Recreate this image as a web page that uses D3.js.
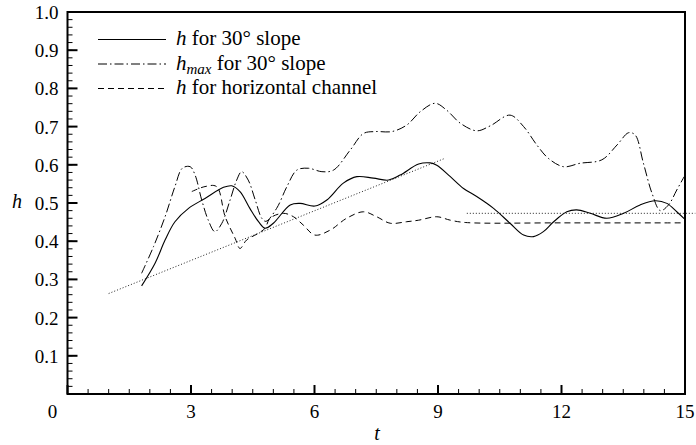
<!DOCTYPE html>
<html>
<head>
<meta charset="utf-8">
<script src="https://cdn.jsdelivr.net/npm/d3@7"></script>
<style>
  body { margin: 0; background: #fff; }
</style>
</head>
<body>
<div id="chart"></div>
<script>
// h for 30 degree slope (solid)
var tSlope = [1.80, 2.13, 2.37, 2.61, 2.94, 3.34, 3.79, 3.99, 4.19, 4.43, 4.64, 4.80, 5.00, 5.41, 5.65, 6.01, 6.30, 6.70, 7.03, 7.43, 7.80, 8.08, 8.53, 8.81, 8.97, 9.30, 9.62, 9.94, 10.35, 10.75, 11.08, 11.32, 11.56, 11.81, 12.13, 12.37, 12.70, 13.10, 13.51, 13.91, 14.28, 14.56, 14.80, 15.0];
var hSlope = [0.283, 0.343, 0.403, 0.451, 0.486, 0.512, 0.541, 0.545, 0.530, 0.486, 0.451, 0.434, 0.447, 0.495, 0.499, 0.492, 0.508, 0.552, 0.569, 0.565, 0.560, 0.573, 0.602, 0.605, 0.599, 0.569, 0.538, 0.517, 0.486, 0.447, 0.416, 0.412, 0.425, 0.451, 0.477, 0.482, 0.473, 0.460, 0.473, 0.495, 0.506, 0.499, 0.477, 0.457];

// hmax for 30 degree slope (dash-dot)
var tMax = [1.80, 2.09, 2.37, 2.61, 2.79, 2.98, 3.10, 3.26, 3.42, 3.58, 3.75, 3.95, 4.11, 4.23, 4.39, 4.56, 4.72, 4.82, 5.08, 5.33, 5.57, 5.85, 6.18, 6.46, 6.87, 7.19, 7.47, 7.88, 8.24, 8.57, 8.93, 9.21, 9.54, 9.94, 10.27, 10.75, 11.08, 11.40, 11.68, 12.05, 12.45, 12.98, 13.35, 13.63, 13.79, 13.99, 14.20, 14.40, 14.60, 14.80, 14.98];
var hMax = [0.316, 0.386, 0.464, 0.543, 0.591, 0.595, 0.573, 0.508, 0.455, 0.425, 0.447, 0.508, 0.560, 0.582, 0.560, 0.508, 0.460, 0.452, 0.486, 0.543, 0.586, 0.591, 0.582, 0.586, 0.639, 0.682, 0.687, 0.687, 0.704, 0.739, 0.761, 0.743, 0.709, 0.689, 0.702, 0.730, 0.700, 0.652, 0.617, 0.595, 0.604, 0.613, 0.652, 0.684, 0.678, 0.604, 0.525, 0.480, 0.495, 0.534, 0.569];

// h for horizontal channel (dashed)
var tChan = [3.02, 3.34, 3.62, 3.83, 4.07, 4.19, 4.35, 4.64, 4.80, 4.92, 5.24, 5.49, 5.73, 6.01, 6.38, 6.78, 7.19, 7.51, 7.84, 8.24, 8.53, 8.97, 9.30, 9.66, 12.0, 15.0];
var hChan = [0.530, 0.543, 0.543, 0.464, 0.408, 0.381, 0.403, 0.421, 0.434, 0.460, 0.473, 0.464, 0.442, 0.416, 0.429, 0.460, 0.477, 0.464, 0.447, 0.451, 0.455, 0.464, 0.455, 0.449, 0.448, 0.448];

// dotted reference lines
var tRise = [1.0, 9.17];
var hRise = [0.263, 0.617];
var tFlat = [9.70, 15.25];
var hFlat = [0.473, 0.473];

var xTicks = [0, 3, 6, 9, 12, 15];
var yTicks = [0.1, 0.2, 0.3, 0.4, 0.5, 0.6, 0.7, 0.8, 0.9, 1.0];

var legendNames = ["for 30\u00b0 slope", "for 30\u00b0 slope", "for horizontal channel"];

var FONT = "'Liberation Serif', 'Times New Roman', Times, Tinos, 'DejaVu Serif', serif";
var width = 696, height = 445;
var margin = {top: 12, right: 11, bottom: 52, left: 67.5};

var svg = d3.select("#chart").append("svg")
  .attr("width", width)
  .attr("height", height)
  .attr("font-family", FONT);

var x = d3.scaleLinear().domain([0, 15]).range([margin.left, width - margin.right]);
var y = d3.scaleLinear().domain([0, 1]).range([height - margin.bottom + 1, margin.top]);

// frame
svg.append("rect")
  .attr("x", x(0)).attr("y", y(1))
  .attr("width", x(15) - x(0)).attr("height", y(0) - y(1))
  .attr("fill", "none").attr("stroke", "#000").attr("stroke-width", 2);

// y ticks (inward)
var yMinor = d3.range(0.02, 1.0, 0.02);
svg.selectAll(".ymin").data(yMinor).enter().append("line")
  .attr("x1", x(0)).attr("x2", x(0) + 5)
  .attr("y1", function(d) { return y(d); }).attr("y2", function(d) { return y(d); })
  .attr("stroke", "#000").attr("stroke-width", 1);
svg.selectAll(".ymaj").data(yTicks).enter().append("line")
  .attr("x1", x(0)).attr("x2", x(0) + 10)
  .attr("y1", function(d) { return y(d); }).attr("y2", function(d) { return y(d); })
  .attr("stroke", "#000").attr("stroke-width", 2);
svg.selectAll(".ylab").data(yTicks).enter().append("text")
  .attr("x", x(0) - 9)
  .attr("y", function(d) { return y(d) + 7; })
  .attr("text-anchor", "end")
  .attr("font-family", FONT)
  .style("font-size", "19px")
  .text(function(d) { return d3.format(".1f")(d); });

// x ticks (inward)
var xMinor = d3.range(0.5, 15, 0.5);
svg.selectAll(".xmin").data(xMinor).enter().append("line")
  .attr("x1", function(d) { return x(d); }).attr("x2", function(d) { return x(d); })
  .attr("y1", y(0)).attr("y2", y(0) - 5)
  .attr("stroke", "#000").attr("stroke-width", 1);
svg.selectAll(".xmaj").data(xTicks).enter().append("line")
  .attr("x1", function(d) { return x(d); }).attr("x2", function(d) { return x(d); })
  .attr("y1", y(0)).attr("y2", y(0) - 9)
  .attr("stroke", "#000").attr("stroke-width", 2);
svg.selectAll(".xlab").data(xTicks).enter().append("text")
  .attr("x", function(d) { return d === 0 ? x(d) - 15 : x(d); })
  .attr("y", y(0) + 24)
  .attr("text-anchor", "middle")
  .attr("font-family", FONT)
  .style("font-size", "19px")
  .text(function(d) { return d; });

// axis titles
svg.append("text")
  .attr("x", 17).attr("y", 208)
  .attr("text-anchor", "middle")
  .attr("font-family", FONT)
  .style("font-size", "20px").style("font-style", "italic")
  .text("h");
svg.append("text")
  .attr("x", 377).attr("y", 440)
  .attr("text-anchor", "middle")
  .attr("font-family", FONT)
  .style("font-size", "20px").style("font-style", "italic")
  .text("t");

function pts(ts, hs) {
  return ts.map(function(t, i) { return [t, hs[i]]; });
}

var smooth = d3.line()
  .x(function(d) { return x(d[0]); })
  .y(function(d) { return y(d[1]); })
  .curve(d3.curveCatmullRom.alpha(0.5));

var straight = d3.line()
  .x(function(d) { return x(d[0]); })
  .y(function(d) { return y(d[1]); });

var dashDot = "9,3,1.5,3";
var dashed = "6,4";

// dotted fits
svg.append("path").attr("d", straight(pts(tRise, hRise)))
  .attr("fill", "none").attr("stroke", "#222").attr("stroke-width", 1).attr("stroke-dasharray", "1,2");
svg.append("path").attr("d", straight(pts(tFlat, hFlat)))
  .attr("fill", "none").attr("stroke", "#222").attr("stroke-width", 1).attr("stroke-dasharray", "1,2");

// series
svg.append("path").attr("d", smooth(pts(tChan, hChan)))
  .attr("fill", "none").attr("stroke", "#000").attr("stroke-width", 1).attr("stroke-dasharray", dashed);
svg.append("path").attr("d", smooth(pts(tMax, hMax)))
  .attr("fill", "none").attr("stroke", "#000").attr("stroke-width", 1).attr("stroke-dasharray", dashDot);
svg.append("path").attr("d", smooth(pts(tSlope, hSlope)))
  .attr("fill", "none").attr("stroke", "#000").attr("stroke-width", 1.1);

// legend
var styles = [null, dashDot, dashed];
var legend = svg.append("g");
legendNames.forEach(function(name, i) {
  var ly = 39.5 + i * 24.5;
  legend.append("line")
    .attr("x1", 98).attr("x2", 166).attr("y1", ly).attr("y2", ly)
    .attr("stroke", "#000").attr("stroke-width", 1)
    .attr("stroke-dasharray", styles[i]);
  var txt = legend.append("text")
    .attr("x", 176).attr("y", ly + 5.5)
    .attr("font-family", FONT)
    .style("font-size", "21px");
  txt.append("tspan").style("font-style", "italic").text("h");
  if (i === 1) {
    txt.append("tspan").style("font-style", "italic").style("font-size", "15px")
      .attr("dy", 4).text("max");
    txt.append("tspan").attr("dy", -4).text(" " + name);
  } else {
    txt.append("tspan").text(" " + name);
  }
});
</script>
</body>
</html>
